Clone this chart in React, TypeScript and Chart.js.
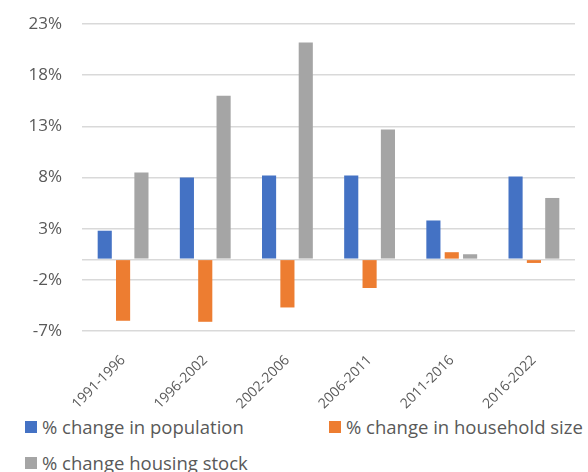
import React, { useEffect, useRef } from "react";
import { Chart, registerables } from "chart.js";

Chart.register(...registerables);

const categories = ["1991-1996", "1996-2002", "2002-2006", "2006-2011", "2011-2016", "2016-2022"];
const seriesNames = ["% change in population", "% change in household size", "% change housing stock"];
const population = [2.8, 8.0, 8.2, 8.2, 3.8, 8.1];
const householdSize = [-6.0, -6.1, -4.7, -2.8, 0.7, -0.35];
const housingStock = [8.5, 16.0, 21.2, 12.7, 0.5, 6.0];
const colors = ["#4472C4", "#ED7D31", "#A5A5A5"];
const yMin = -7;
const yMax = 23;
const yStep = 5;

const FONT = "'Open Sans', 'Noto Sans', sans-serif";
const TEXT = "#595959";

export default function App() {
  const ref = useRef<HTMLCanvasElement | null>(null);

  useEffect(() => {
    document.body.style.margin = "0";
    const ctx = ref.current!;
    const chart = new Chart(ctx, {
      type: "bar",
      data: {
        labels: categories,
        datasets: [population, householdSize, housingStock].map((d, i) => ({
          label: seriesNames[i],
          data: d,
          backgroundColor: colors[i],
          categoryPercentage: 0.67,
          barPercentage: 0.77,
        })),
      },
      options: {
        animation: false,
        responsive: false,
        maintainAspectRatio: false,
        layout: { padding: { top: 24, right: 13, left: 0, bottom: 0 } },
        plugins: { legend: { display: false }, tooltip: { enabled: false } },
        scales: {
          x: {
            grid: { display: false },
            border: { display: false },
            ticks: {
              maxRotation: 45,
              minRotation: 45,
              padding: 13,
              color: TEXT,
              font: { family: FONT, size: 14 },
            },
            afterFit: (s: any) => {
              s.height = 79;
              s.paddingLeft = 0;
              s.paddingRight = 0;
            },
          },
          y: {
            min: yMin,
            max: yMax,
            border: { display: false },
            grid: { color: "#d9d9d9", lineWidth: 1.5, drawTicks: false },
            ticks: {
              stepSize: yStep,
              padding: 20,
              color: TEXT,
              font: { family: FONT, size: 17 },
              callback: (v: any) => (Number(v) === 0 ? "" : `${v}%`),
            },
            afterBuildTicks: (s: any) => {
              s.ticks = [...s.ticks, { value: 0 }];
            },
            afterFit: (s: any) => {
              s.width = 82;
              s.paddingTop = 0;
              s.paddingBottom = 0;
            },
          },
        },
      },
    });
    return () => chart.destroy();
  }, []);

  const item = (i: number) => (
    <div style={{ display: "flex", alignItems: "center", whiteSpace: "nowrap" }}>
      <span style={{ width: 12, height: 12, background: colors[i], display: "inline-block", marginRight: 5, flex: "none" }} />
      <span>{seriesNames[i]}</span>
    </div>
  );

  return (
    <div style={{ position: "fixed", left: 0, top: 0, width: 588, height: 472, background: "#fff", overflow: "hidden" }}>
      <canvas ref={ref} width={588} height={410} style={{ position: "absolute", left: 0, top: 0 }} />
      <div
        style={{
          position: "absolute",
          left: 25,
          top: 415,
          display: "grid",
          gridTemplateColumns: "304px auto",
          rowGap: 12,
          fontFamily: FONT,
          fontSize: 18.5,
          color: TEXT,
          lineHeight: "24px",
        }}
      >
        {item(0)}
        {item(1)}
        {item(2)}
      </div>
    </div>
  );
}
